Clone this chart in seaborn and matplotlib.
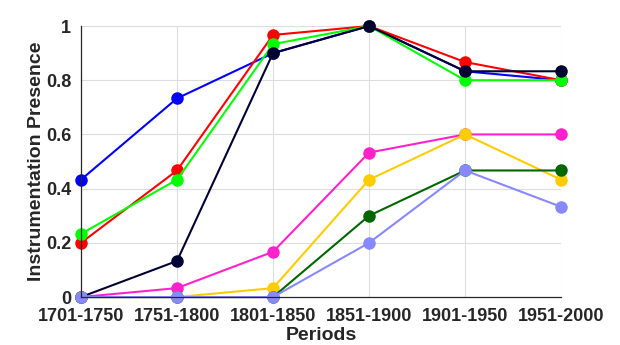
import matplotlib
matplotlib.use("Agg")
import matplotlib.pyplot as plt
import seaborn as sns
import pandas as pd

periods = ["1701-1750", "1751-1800", "1801-1850", "1851-1900", "1901-1950", "1951-2000"]
series_names = ["S1", "S2", "S3", "S4", "S5", "S6", "S7", "S8"]
s1 = [0.433, 0.733, 0.9, 1.0, 0.833, 0.8]
s2 = [0.2, 0.467, 0.967, 1.0, 0.867, 0.8]
s3 = [0.233, 0.433, 0.933, 1.0, 0.8, 0.8]
s4 = [0.0, 0.133, 0.9, 1.0, 0.833, 0.833]
s5 = [0.0, 0.033, 0.167, 0.533, 0.6, 0.6]
s6 = [0.0, 0.0, 0.033, 0.433, 0.6, 0.433]
s7 = [0.0, 0.0, 0.0, 0.3, 0.467, 0.467]
s8 = [0.0, 0.0, 0.0, 0.2, 0.467, 0.333]
all_series = [s1, s2, s3, s4, s5, s6, s7, s8]
colors = ["#0000FF", "#FF0000", "#00FF00", "#000033", "#FF22CC", "#FFCC00", "#006600", "#8888FF"]

rows = []
for name, vals in zip(series_names, all_series):
    for i, v in enumerate(vals):
        rows.append({"series": name, "idx": i, "value": v})
df = pd.DataFrame(rows)

sns.set_style("white")
plt.rcParams["font.family"] = ["Liberation Sans", "DejaVu Sans"]
plt.rcParams["font.weight"] = "bold"

fig = plt.figure(figsize=(6.2, 3.45), dpi=100)
ax = fig.add_axes([0.1306, 0.139, 0.905 - 0.1306, 0.9246 - 0.139])

sns.lineplot(data=df, x="idx", y="value", hue="series", palette=colors,
             marker="o", markersize=9, markeredgewidth=0, linewidth=1.5,
             legend=False, ax=ax, clip_on=False)

ax.set_xlim(0, len(periods) - 1)
ax.set_ylim(0, 1)
ax.set_xticks(range(len(periods)))
ax.set_xticklabels(periods)
ax.set_yticks([0, 0.2, 0.4, 0.6, 0.8, 1])
ax.set_yticklabels(["0", "0.2", "0.4", "0.6", "0.8", "1"])
ax.grid(True, color="#DDDDDD", linewidth=0.8)
ax.set_axisbelow(True)
for s in ["top", "right"]:
    ax.spines[s].set_visible(False)
for s in ["left", "bottom"]:
    ax.spines[s].set_color("#262626")
    ax.spines[s].set_linewidth(0.9)
ax.tick_params(direction="in", length=4, width=0.9, colors="#262626", labelsize=13)
ax.tick_params(axis="x", pad=8)
ax.tick_params(axis="y", pad=7)
for lab in ax.get_xticklabels() + ax.get_yticklabels():
    lab.set_fontweight("bold")
    lab.set_color("#262626")
ax.set_xlabel("Periods", fontsize=14, fontweight="bold", color="#262626", labelpad=1)
ax.set_ylabel("Instrumentation Presence", fontsize=14, fontweight="bold", color="#262626", labelpad=1)

fig.savefig("out.png", dpi=100)
